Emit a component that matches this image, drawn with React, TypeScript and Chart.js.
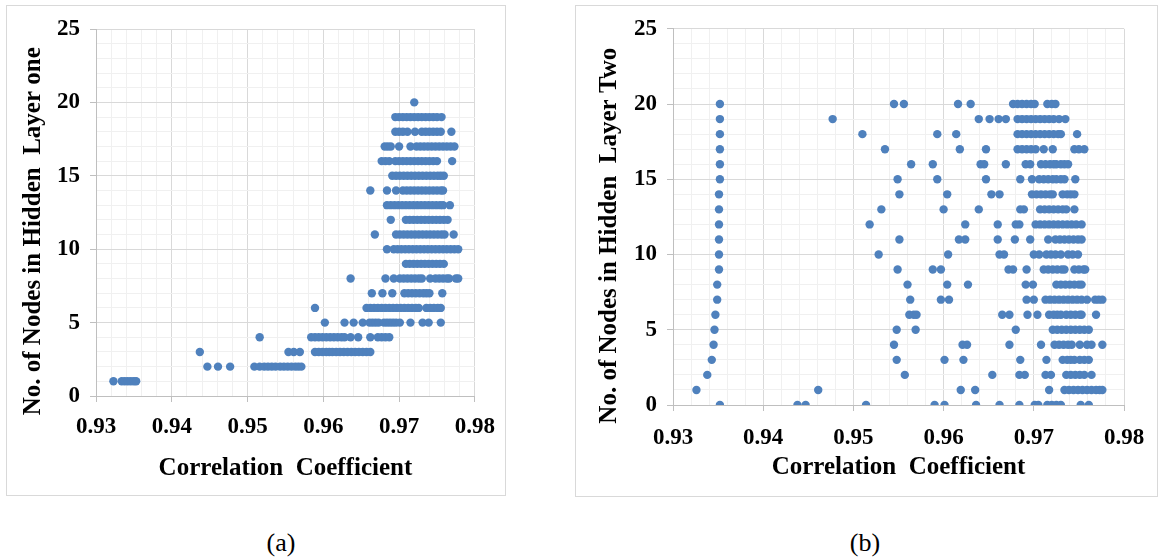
import React, { useEffect, useRef } from 'react';
import { Chart, registerables } from 'chart.js';

Chart.register(...registerables);

const SERIF = '"Liberation Serif", "Times New Roman", Times, serif';

// ---- axis ranges ----
const xMin = 0.93;
const xMax = 0.98;
const xMajorStep = 0.01;
const xMinorStep = 0.002;
const yMin = 0;
const yMax = 25;
const yMajorStep = 5;
const yMinorStep = 1;

// ---- texts ----
const xTitle = 'Correlation  Coefficient';
const yTitleOne = 'No. of Nodes in Hidden  Layer one';
const yTitleTwo = 'No. of Nodes in Hidden  Layer Two';
const captionOne = '(a)';
const captionTwo = '(b)';

// ---- data: (a) nodes in hidden layer one vs correlation coefficient ----
const layerOneNodes = [1, 2, 3, 4, 5, 6, 7, 8, 9, 10, 11, 12, 13, 14, 15, 16, 17, 18, 19, 20];
const layerOneCorr: number[][] = [
  [0.9323, 0.9334, 0.9338, 0.9342, 0.9346, 0.935, 0.9353],
  [0.9447, 0.9461, 0.9477, 0.9509, 0.9516, 0.9522, 0.9527, 0.9532, 0.9537, 0.9543, 0.9548, 0.9553, 0.9558, 0.9563, 0.9567, 0.9571],
  [0.9437, 0.9554, 0.9561, 0.9569, 0.9589, 0.9594, 0.9599, 0.9604, 0.9608, 0.9612, 0.9617, 0.9622, 0.9627, 0.9632, 0.9637, 0.9642, 0.9647, 0.9652, 0.9657, 0.9662],
  [0.9516, 0.9584, 0.9589, 0.9594, 0.9599, 0.9604, 0.9609, 0.9614, 0.9619, 0.9624, 0.9628, 0.9636, 0.9646, 0.9662, 0.9672, 0.9677, 0.9682, 0.9687],
  [0.9602, 0.9628, 0.964, 0.9652, 0.9661, 0.9665, 0.9669, 0.9673, 0.968, 0.9684, 0.9688, 0.9692, 0.9696, 0.9701, 0.9715, 0.9731, 0.9739, 0.9755],
  [0.9589, 0.9657, 0.9662, 0.9667, 0.9672, 0.9677, 0.9682, 0.9687, 0.9692, 0.9697, 0.9702, 0.9707, 0.9712, 0.9717, 0.9722, 0.9726, 0.9736, 0.9741, 0.9746, 0.9751, 0.9755],
  [0.9664, 0.9678, 0.9691, 0.9707, 0.9712, 0.9717, 0.9722, 0.9727, 0.9732, 0.9736, 0.974, 0.9757],
  [0.9636, 0.9682, 0.9693, 0.9701, 0.9706, 0.9711, 0.9716, 0.9721, 0.9726, 0.973, 0.9741, 0.9748, 0.9753, 0.9758, 0.9763, 0.9766, 0.9775, 0.9778],
  [0.9709, 0.9714, 0.9719, 0.9724, 0.9729, 0.9734, 0.9739, 0.9744, 0.9749, 0.9754, 0.9759],
  [0.9684, 0.9693, 0.9698, 0.9703, 0.9708, 0.9713, 0.9718, 0.9723, 0.9728, 0.9733, 0.9738, 0.9743, 0.9748, 0.9753, 0.9758, 0.9763, 0.9768, 0.9773, 0.9778],
  [0.9668, 0.9696, 0.9701, 0.9706, 0.9711, 0.9716, 0.9721, 0.9726, 0.9731, 0.9736, 0.9741, 0.9746, 0.9751, 0.9756, 0.976, 0.9772],
  [0.9689, 0.9709, 0.9714, 0.9719, 0.9724, 0.9729, 0.9734, 0.9739, 0.9744, 0.9749, 0.9754, 0.9759, 0.9764],
  [0.9684, 0.9689, 0.9694, 0.9699, 0.9704, 0.9709, 0.9714, 0.9719, 0.9724, 0.9729, 0.9734, 0.9739, 0.9744, 0.9749, 0.9754, 0.9758, 0.9767],
  [0.9662, 0.9684, 0.9696, 0.9705, 0.971, 0.9715, 0.972, 0.9725, 0.973, 0.9735, 0.974, 0.9745, 0.975, 0.9755, 0.9758],
  [0.9691, 0.9696, 0.9701, 0.9706, 0.9711, 0.9716, 0.9721, 0.9726, 0.9731, 0.9736, 0.9741, 0.9746, 0.9751, 0.9755, 0.9759],
  [0.9677, 0.9682, 0.9687, 0.9695, 0.97, 0.9705, 0.971, 0.9715, 0.972, 0.9725, 0.973, 0.9735, 0.974, 0.9745, 0.975, 0.977],
  [0.9681, 0.9685, 0.9689, 0.97, 0.9715, 0.9723, 0.9728, 0.9733, 0.9738, 0.9743, 0.9748, 0.9753, 0.9758, 0.9763, 0.9768, 0.9773],
  [0.9695, 0.97, 0.9705, 0.9711, 0.9721, 0.973, 0.9735, 0.974, 0.9745, 0.975, 0.9755, 0.9769],
  [0.9695, 0.97, 0.9705, 0.971, 0.9715, 0.972, 0.9725, 0.973, 0.9735, 0.974, 0.9745, 0.975, 0.9756],
  [0.972],
];

// ---- data: (b) nodes in hidden layer two vs correlation coefficient ----
const layerTwoNodes = [0, 1, 2, 3, 4, 5, 6, 7, 8, 9, 10, 11, 12, 13, 14, 15, 16, 17, 18, 19, 20];
const layerTwoCorr: number[][] = [
  [0.9352, 0.9438, 0.9447, 0.9514, 0.959, 0.9601, 0.9636, 0.9662, 0.9684, 0.9701, 0.9705, 0.9715, 0.972, 0.9725, 0.973, 0.9752, 0.9761],
  [0.9326, 0.9461, 0.9619, 0.9635, 0.9717, 0.9734, 0.9739, 0.9744, 0.9749, 0.9754, 0.9759, 0.9764, 0.9769, 0.9773, 0.9776],
  [0.9338, 0.9557, 0.9654, 0.9684, 0.969, 0.9713, 0.9719, 0.9736, 0.9741, 0.9746, 0.9751, 0.9756, 0.9764],
  [0.9343, 0.9548, 0.9601, 0.9622, 0.9685, 0.9714, 0.9732, 0.9737, 0.9741, 0.9745, 0.9751, 0.9756, 0.9761],
  [0.9345, 0.9545, 0.9621, 0.9626, 0.9673, 0.9708, 0.9723, 0.9728, 0.9733, 0.9738, 0.9742, 0.9751, 0.9759, 0.9764, 0.9776],
  [0.9346, 0.9548, 0.9569, 0.968, 0.9721, 0.9726, 0.9731, 0.9736, 0.9741, 0.9746, 0.9751, 0.9756, 0.9761],
  [0.9347, 0.9562, 0.9567, 0.957, 0.9665, 0.9673, 0.9693, 0.9704, 0.9717, 0.9722, 0.9726, 0.973, 0.9736, 0.9741, 0.9746, 0.9751, 0.9753, 0.9769],
  [0.9349, 0.9563, 0.9597, 0.9606, 0.9692, 0.97, 0.9713, 0.9718, 0.9723, 0.9728, 0.9733, 0.9738, 0.9743, 0.9748, 0.9753, 0.9759, 0.9768, 0.9772, 0.9776],
  [0.9349, 0.956, 0.9604, 0.9627, 0.9691, 0.9699, 0.9725, 0.973, 0.9735, 0.974, 0.9745, 0.975, 0.9753],
  [0.9351, 0.9549, 0.9588, 0.9597, 0.9672, 0.9677, 0.9692, 0.9711, 0.9716, 0.9721, 0.9726, 0.9731, 0.9734, 0.9745, 0.975, 0.9755, 0.9757],
  [0.9351, 0.9528, 0.9605, 0.9662, 0.9667, 0.97, 0.9706, 0.9714, 0.9719, 0.9724, 0.973, 0.9738, 0.9743, 0.9749],
  [0.9351, 0.9551, 0.9617, 0.9624, 0.966, 0.9679, 0.9696, 0.9716, 0.9724, 0.9729, 0.9734, 0.9739, 0.9744, 0.9749, 0.9753],
  [0.9351, 0.9518, 0.9624, 0.966, 0.968, 0.9684, 0.9702, 0.9707, 0.9712, 0.9717, 0.9722, 0.9727, 0.9732, 0.9737, 0.9742, 0.9747, 0.9753],
  [0.9351, 0.9531, 0.96, 0.9639, 0.9685, 0.9689, 0.9707, 0.9712, 0.9717, 0.9722, 0.9727, 0.9732, 0.9736, 0.9745],
  [0.9351, 0.9551, 0.9604, 0.9653, 0.9662, 0.9698, 0.9703, 0.9708, 0.9713, 0.9718, 0.9721, 0.9732, 0.9737, 0.9741, 0.9745],
  [0.9352, 0.9549, 0.9593, 0.9647, 0.9685, 0.9698, 0.9706, 0.9711, 0.9716, 0.9721, 0.9725, 0.973, 0.9734, 0.9746],
  [0.9352, 0.9564, 0.9588, 0.9641, 0.9645, 0.9669, 0.9691, 0.9696, 0.9708, 0.9713, 0.9718, 0.9722, 0.9725, 0.973, 0.9734, 0.9738],
  [0.9352, 0.9535, 0.9618, 0.9647, 0.9682, 0.9687, 0.9692, 0.9697, 0.9702, 0.9711, 0.9721, 0.9745, 0.975, 0.9756],
  [0.9352, 0.951, 0.9593, 0.9614, 0.9682, 0.9687, 0.9692, 0.9697, 0.9702, 0.9707, 0.9712, 0.9717, 0.9722, 0.9727, 0.973, 0.9748],
  [0.9352, 0.9477, 0.9639, 0.9651, 0.9661, 0.9669, 0.9682, 0.9687, 0.9692, 0.9697, 0.9702, 0.9707, 0.9712, 0.9717, 0.9722, 0.9728, 0.9735],
  [0.9352, 0.9545, 0.9556, 0.9616, 0.963, 0.9677, 0.9682, 0.9687, 0.9692, 0.9697, 0.9701, 0.9715, 0.972, 0.9724],
];

const POINT_COLOR = '#4f81bd';
const MAJOR_GRID = '#d9d9d9';
const MINOR_GRID = '#f0f0f0';
const AXIS_COLOR = '#bfbfbf';

function onStep(v: number, step: number) {
  const r = v / step;
  return Math.abs(r - Math.round(r)) < 1e-6;
}

function toPoints(nodes: number[], corr: number[][]) {
  const pts: { x: number; y: number }[] = [];
  nodes.forEach((n, i) => {
    corr[i].forEach((c) => pts.push({ x: c, y: n }));
  });
  return pts;
}

type Geo = {
  left: number;
  top: number;
  width: number;
  height: number;
  padTop: number;
  padRight: number;
  yAxisWidth: number;
  xAxisHeight: number;
  xTitlePadBottom: number;
  yTitlePadTop: number;
  xTickPad: number;
  yTickPad: number;
};

function Panel({ geo, points, yTitle }: { geo: Geo; points: { x: number; y: number }[]; yTitle: string }) {
  const ref = useRef<HTMLCanvasElement | null>(null);
  useEffect(() => {
    if (!ref.current) return;
    const chart = new Chart(ref.current, {
      type: 'scatter',
      data: {
        datasets: [
          {
            data: points,
            backgroundColor: POINT_COLOR,
            borderColor: POINT_COLOR,
            borderWidth: 0,
            pointRadius: 4.2,
            pointHoverRadius: 4.2,
          },
        ],
      },
      options: {
        responsive: false,
        maintainAspectRatio: false,
        animation: false,
        events: [],
        layout: { padding: { top: geo.padTop, right: geo.padRight, left: 0, bottom: 0 } },
        plugins: { legend: { display: false }, tooltip: { enabled: false } },
        scales: {
          x: {
            type: 'linear',
            min: xMin,
            max: xMax,
            border: { color: AXIS_COLOR, width: 1 },
            grid: {
              color: (c: any) => (onStep(c.tick.value, xMajorStep) ? MAJOR_GRID : MINOR_GRID),
              tickColor: (c: any) => (onStep(c.tick.value, xMajorStep) ? AXIS_COLOR : 'rgba(0,0,0,0)'),
              tickLength: 6,
              lineWidth: 1,
            },
            ticks: {
              stepSize: xMinorStep,
              autoSkip: false,
              maxTicksLimit: 200,
              maxRotation: 0,
              minRotation: 0,
              padding: geo.xTickPad,
              color: '#000',
              font: { family: SERIF, size: 23, weight: 'bold' },
              callback: (v: any) => (onStep(Number(v), xMajorStep) ? Number(v).toFixed(2) : ''),
            },
            title: {
              display: true,
              text: xTitle,
              color: '#000',
              font: { family: SERIF, size: 25, weight: 'bold' },
              padding: { top: 0, bottom: geo.xTitlePadBottom },
            },
            afterFit: (s: any) => {
              s.height = geo.xAxisHeight;
            },
          },
          y: {
            type: 'linear',
            min: yMin,
            max: yMax,
            border: { color: AXIS_COLOR, width: 1 },
            grid: {
              color: (c: any) => (onStep(c.tick.value, yMajorStep) ? MAJOR_GRID : MINOR_GRID),
              tickColor: (c: any) => (onStep(c.tick.value, yMajorStep) ? AXIS_COLOR : 'rgba(0,0,0,0)'),
              tickLength: 6,
              lineWidth: 1,
            },
            ticks: {
              stepSize: yMinorStep,
              autoSkip: false,
              maxTicksLimit: 200,
              padding: geo.yTickPad,
              color: '#000',
              font: { family: SERIF, size: 23, weight: 'bold' },
              callback: (v: any) => (onStep(Number(v), yMajorStep) ? String(Math.round(Number(v))) : ''),
            },
            title: {
              display: true,
              text: yTitle + '      ',
              color: '#000',
              font: { family: SERIF, size: 25, weight: 'bold' },
              padding: { top: geo.yTitlePadTop, bottom: 0 },
            },
            afterFit: (s: any) => {
              s.width = geo.yAxisWidth;
            },
          },
        },
      } as any,
    });
    return () => chart.destroy();
  }, []);

  return (
    <>
      <canvas
        ref={ref}
        width={geo.width}
        height={geo.height}
        style={{ position: 'absolute', left: geo.left, top: geo.top, width: geo.width, height: geo.height }}
      />
      <div
        style={{
          position: 'absolute',
          left: geo.left,
          top: geo.top,
          width: geo.width,
          height: geo.height,
          border: '1px solid #d9d9d9',
          boxSizing: 'border-box',
          pointerEvents: 'none',
        }}
      />
    </>
  );
}

const geoOne: Geo = {
  left: 6, top: 5, width: 500, height: 491,
  padTop: 24, padRight: 27, yAxisWidth: 90, xAxisHeight: 100, xTitlePadBottom: 12, yTitlePadTop: 13,
  xTickPad: 11, yTickPad: 10,
};
const geoTwo: Geo = {
  left: 575, top: 5, width: 583, height: 492,
  padTop: 22, padRight: 34, yAxisWidth: 98, xAxisHeight: 92, xTitlePadBottom: 14, yTitlePadTop: 20,
  xTickPad: 13, yTickPad: 10,
};

export default function App() {
  const captionStyle: React.CSSProperties = {
    position: 'absolute',
    top: 528,
    transform: 'translateX(-50%)',
    fontFamily: SERIF,
    fontSize: 26,
    lineHeight: '30px',
    color: '#000',
    whiteSpace: 'nowrap',
  };
  return (
    <div style={{ position: 'absolute', left: 0, top: 0, width: 1160, height: 559, background: '#fff' }}>
      <Panel geo={geoOne} points={toPoints(layerOneNodes, layerOneCorr)} yTitle={yTitleOne} />
      <Panel geo={geoTwo} points={toPoints(layerTwoNodes, layerTwoCorr)} yTitle={yTitleTwo} />
      <div style={{ ...captionStyle, left: 281 }}>{captionOne}</div>
      <div style={{ ...captionStyle, left: 865 }}>{captionTwo}</div>
    </div>
  );
}
